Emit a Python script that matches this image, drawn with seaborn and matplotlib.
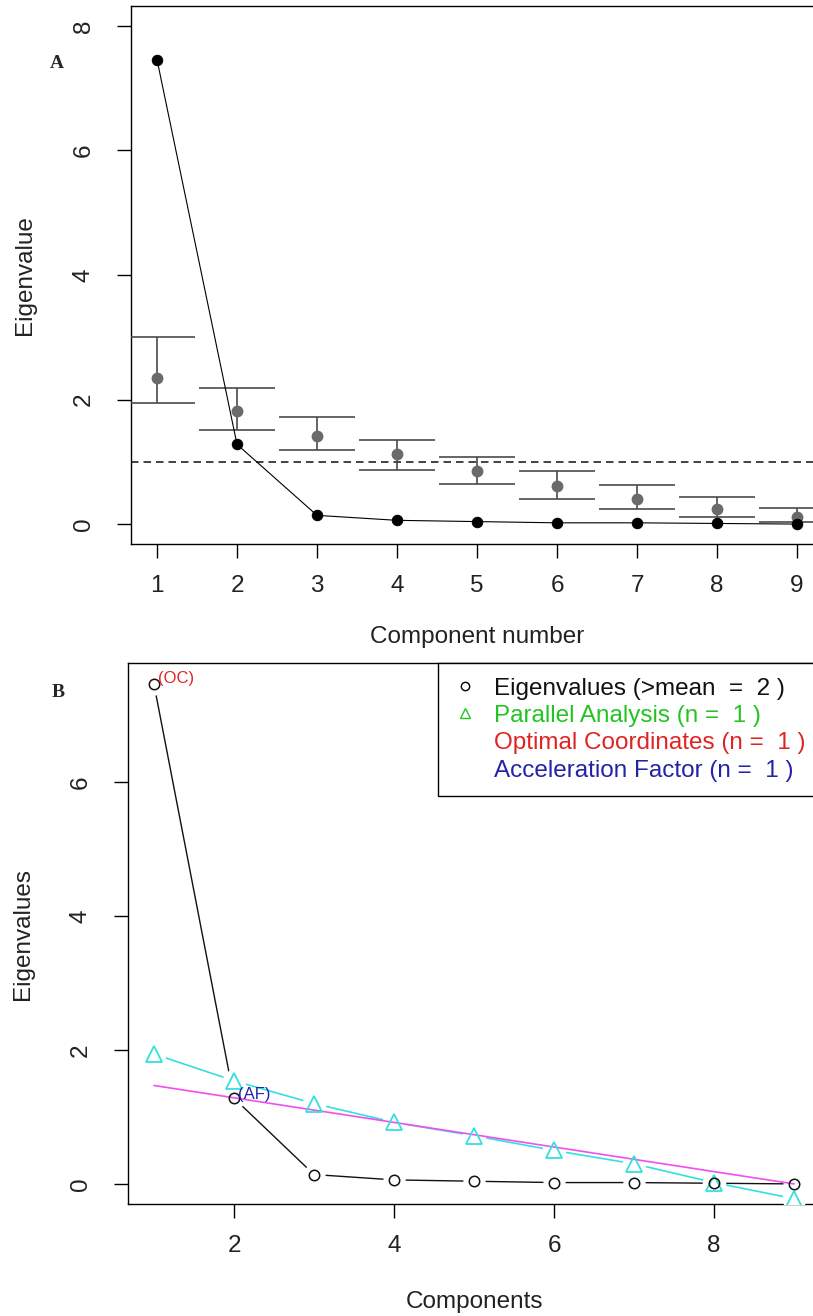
import matplotlib
matplotlib.use("Agg")
import matplotlib.pyplot as plt
from matplotlib.lines import Line2D
import seaborn as sns
import pandas as pd

# ---------------- data ----------------
components = [1, 2, 3, 4, 5, 6, 7, 8, 9]
eigenvalues = [7.46, 1.28, 0.14, 0.06, 0.04, 0.02, 0.02, 0.01, 0.00]
sim_mean = [2.34, 1.81, 1.42, 1.12, 0.85, 0.61, 0.41, 0.25, 0.12]
sim_upper = [3.00, 2.18, 1.72, 1.35, 1.08, 0.85, 0.62, 0.43, 0.26]
sim_lower = [1.95, 1.51, 1.19, 0.87, 0.64, 0.41, 0.25, 0.12, 0.04]
parallel = [1.94, 1.54, 1.20, 0.92, 0.72, 0.50, 0.30, 0.02, -0.22]
oc_x = [1, 9]
oc_y = [1.47, 0.00]
kaiser = 1.0

ticks_a_x = [1, 2, 3, 4, 5, 6, 7, 8, 9]
ticks_a_y = [0, 2, 4, 6, 8]
ticks_b_x = [2, 4, 6, 8]
ticks_b_y = [0, 2, 4, 6]

legend_labels = ["Eigenvalues (>mean  =  2 )", "Parallel Analysis (n =  1 )",
                 "Optimal Coordinates (n =  1 )", "Acceleration Factor (n =  1 )"]

# ---------------- style ----------------
sns.set_theme(style="white")
plt.rcParams["font.family"] = ["Liberation Sans", "DejaVu Sans"]
plt.rcParams["axes.edgecolor"] = "black"
plt.rcParams["axes.linewidth"] = 1.0

FS = 17.5
GREEN = "#22c422"
RED = "#e02424"
BLUE = "#2323a8"
CYAN = "#33e0e0"
MAGENTA = "#f050f0"

W, H = 813, 1316
fig = plt.figure(figsize=(W / 100, H / 100), dpi=100)
axA = fig.add_axes([131 / W, 1 - 544 / H, 692 / W, 538 / H])
axB = fig.add_axes([128 / W, 1 - 1204 / H, 692 / W, 541 / H])

df = pd.DataFrame({"comp": components, "eig": eigenvalues, "mean": sim_mean,
                   "up": sim_upper, "lo": sim_lower, "par": parallel})


def style_axes(ax, xt, yt, xlim, ylim):
    ax.set_xlim(*xlim)
    ax.set_ylim(*ylim)
    ax.set_xticks(xt)
    ax.set_yticks(yt)
    ax.set_xticklabels([str(v) for v in xt])
    ax.set_yticklabels([str(v) for v in yt])
    for s in ax.spines.values():
        s.set_visible(True)
        s.set_color("black")
        s.set_linewidth(1.0)
    ax.tick_params(axis="both", which="major", direction="out", length=10,
                   width=1.0, color="black", labelsize=FS, labelcolor="#222222",
                   bottom=True, left=True)
    ax.tick_params(axis="x", pad=20)
    ax.tick_params(axis="y", pad=24)
    for lab in ax.get_xticklabels():
        lab.set_va("center")
    for lab in ax.get_yticklabels():
        lab.set_rotation(90)
        lab.set_va("center")
        lab.set_ha("center")
    ax.grid(False)


# ---------------- Panel A ----------------
axA.errorbar(df["comp"], df["mean"],
             yerr=[df["mean"] - df["lo"], df["up"] - df["mean"]],
             fmt="o", color="#6a6a6a", ecolor="#4a4a4a", elinewidth=1.2,
             capsize=27.5, capthick=1.2, markersize=7.5, zorder=3)
axA.axhline(kaiser, color="#222222", lw=1.2, ls=(0, (4.5, 3)), zorder=2)
sns.lineplot(data=df, x="comp", y="eig", ax=axA, color="black", lw=0.8,
             marker="o", markersize=7.5, markeredgecolor="black", zorder=4)
style_axes(axA, ticks_a_x, ticks_a_y, (0.675, 9.325), (-0.32, 8.32))
axA.set_xlabel("Component number", fontsize=FS, color="#222222")
axA.set_ylabel("Eigenvalue", fontsize=FS, color="#222222")
axA.xaxis.set_label_coords(0.5, (544 - 637) / 538)
axA.yaxis.set_label_coords((25 - 131) / 692, 0.5)
axA.xaxis.label.set_va("center")
axA.yaxis.label.set_va("center")

# ---------------- Panel B ----------------
sns.lineplot(data=df, x="comp", y="par", ax=axB, color=CYAN, lw=1.2, zorder=2)
sns.lineplot(data=df, x="comp", y="eig", ax=axB, color="#111111", lw=1.0, zorder=2)
# white gaps around points (R type = "b")
axB.plot(df["comp"], df["par"], ls="none", marker="o", markersize=16,
         mfc="white", mec="white", zorder=3)
axB.plot(df["comp"], df["eig"], ls="none", marker="o", markersize=15,
         mfc="white", mec="white", zorder=3)
sns.lineplot(x=oc_x, y=oc_y, ax=axB, color=MAGENTA, lw=1.2, zorder=4)
axB.plot(df["comp"], df["par"], ls="none", marker="^", markersize=11,
         mfc="none", mec=CYAN, mew=1.3, zorder=5)
axB.plot(df["comp"], df["eig"], ls="none", marker="o", markersize=7.5,
         mfc="none", mec="#111111", mew=1.1, zorder=5)

axB.annotate("(OC)", (components[0], eigenvalues[0]), xytext=(3, 4),
             textcoords="offset points", color=RED, fontsize=12,
             ha="left", va="center", zorder=6)
axB.annotate("(AF)", (components[1], eigenvalues[1]), xytext=(3, 3),
             textcoords="offset points", color=BLUE, fontsize=12,
             ha="left", va="center", zorder=6)

style_axes(axB, ticks_b_x, ticks_b_y, (0.675, 9.325), (-0.30, 7.78))
axB.set_xlabel("Components", fontsize=FS, color="#222222")
axB.set_ylabel("Eigenvalues", fontsize=FS, color="#222222")
axB.xaxis.set_label_coords(0.5, (1204 - 1302) / 541)
axB.yaxis.set_label_coords((23 - 128) / 692, 0.5)
axB.xaxis.label.set_va("center")
axB.yaxis.label.set_va("center")

handles = [
    Line2D([], [], color="black", marker="o", mfc="none", ls="none", markersize=6, mew=1.0),
    Line2D([], [], color=GREEN, marker="^", mfc="none", ls="none", markersize=7, mew=1.0),
    Line2D([], [], color="none", ls="none"),
    Line2D([], [], color="none", ls="none"),
]
leg = axB.legend(handles, legend_labels, loc="upper right", bbox_to_anchor=(1, 1),
                 borderaxespad=0, fancybox=False, framealpha=1, edgecolor="black",
                 fontsize=FS, borderpad=0.6, handlelength=1.0, handletextpad=0.7,
                 labelspacing=0.22, labelcolor=["#111111", GREEN, RED, BLUE])
leg.get_frame().set_linewidth(1.0)
leg.set_zorder(10)

# panel letters
fig.text(57 / W, 1 - 63 / H, "A", family=["Liberation Serif", "DejaVu Serif"],
         weight="bold", fontsize=14, ha="center", va="center")
fig.text(58 / W, 1 - 693 / H, "B", family=["Liberation Serif", "DejaVu Serif"],
         weight="bold", fontsize=14, ha="center", va="center")

fig.savefig("out.png", dpi=100, facecolor="white")
